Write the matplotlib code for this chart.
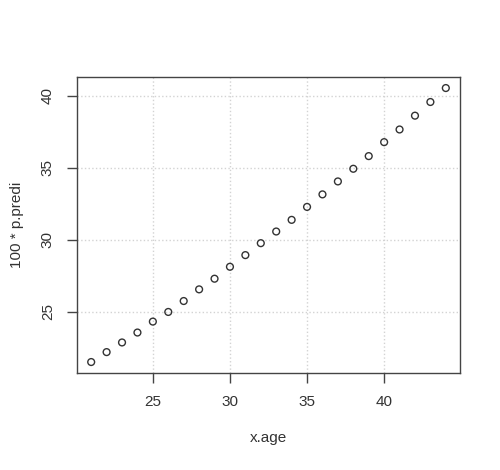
import matplotlib.pyplot as plt
import numpy as np

plt.rcParams['font.family'] = ['Liberation Sans', 'DejaVu Sans']

x_age = np.arange(21, 45)
p_predi = np.array([21.49, 22.18, 22.85, 23.54, 24.30, 24.97, 25.73, 26.54,
                    27.28, 28.11, 28.92, 29.75, 30.56, 31.37, 32.27, 33.14,
                    34.04, 34.92, 35.80, 36.77, 37.65, 38.61, 39.56, 40.53])

fig = plt.figure(figsize=(5, 4.7), dpi=100)
ax = fig.add_axes([0.154, 0.2064, 0.766, 0.6296])

ax.scatter(x_age, p_predi, s=24, facecolors='none', edgecolors='#333333',
           linewidths=1.0, zorder=3)

# R style 4% padding
xr = x_age.max() - x_age.min()
yr = p_predi.max() - p_predi.min()
ax.set_xlim(x_age.min() - 0.04*xr, x_age.max() + 0.04*xr)
ax.set_ylim(p_predi.min() - 0.04*yr, p_predi.max() + 0.04*yr)

ax.set_xticks([25, 30, 35, 40])
ax.set_yticks([25, 30, 35, 40])
ax.grid(color='lightgray', linestyle=':', linewidth=1)
ax.set_axisbelow(True)

for s in ax.spines.values():
    s.set_color('#444444')
    s.set_linewidth(1.0)
ax.tick_params(direction='out', length=7, width=1, color='#444444',
               labelcolor='#333333', labelsize=11, pad=9)
plt.setp(ax.get_yticklabels(), rotation=90, va='center')

ax.set_xlabel('x.age', fontsize=11, color='#333333', labelpad=16)
ax.set_ylabel('100 * p.predi', fontsize=11, color='#333333', labelpad=12)

fig.savefig('out.png', dpi=100)
